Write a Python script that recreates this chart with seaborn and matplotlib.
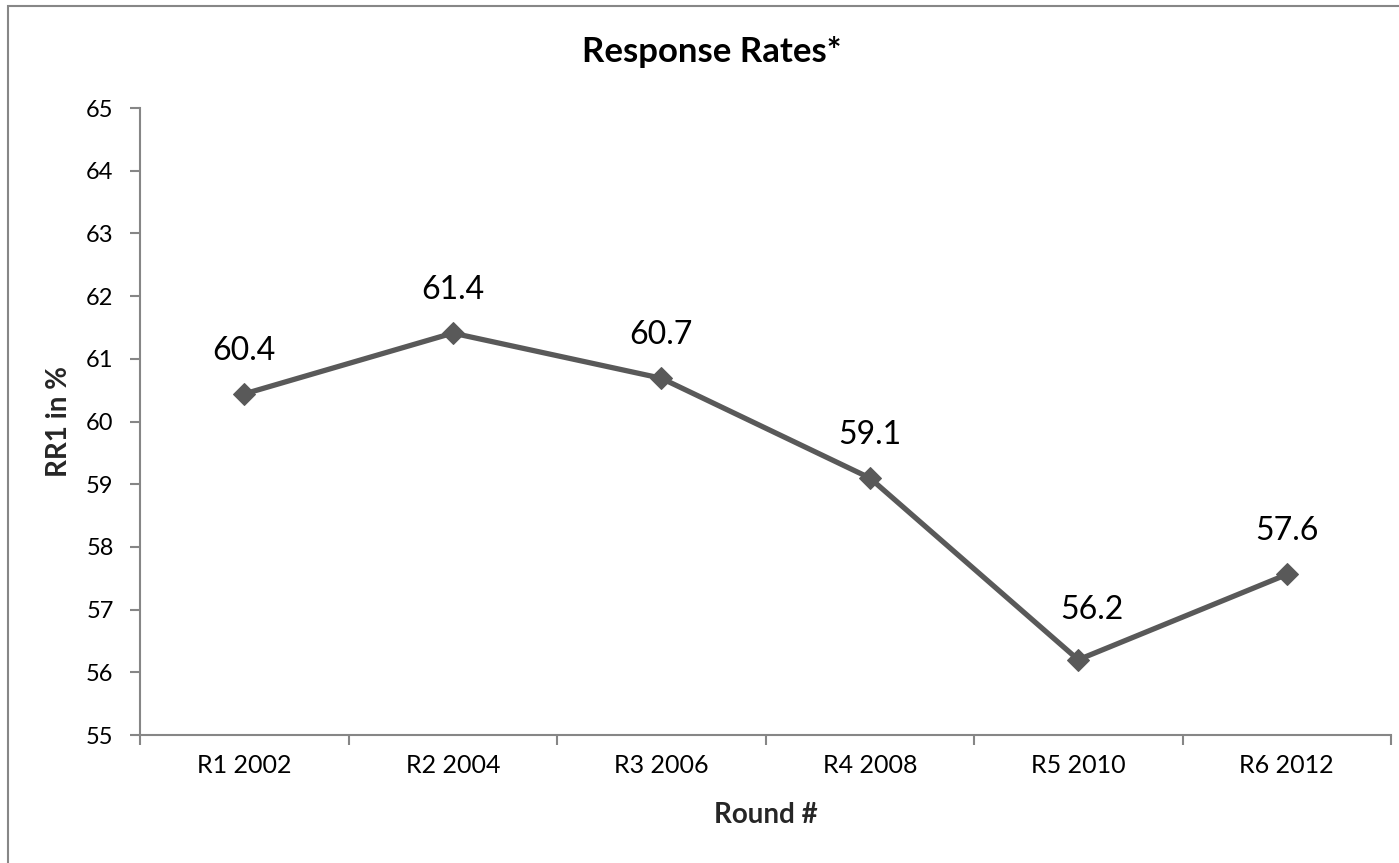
import matplotlib
matplotlib.use("Agg")
import matplotlib.pyplot as plt
from matplotlib.patches import Rectangle
from matplotlib.ticker import MultipleLocator
import seaborn as sns
import pandas as pd

# Survey rounds and first-stage response rate (RR1, %)
rounds = ["R1 2002", "R2 2004", "R3 2006", "R4 2008", "R5 2010", "R6 2012"]
rr1 = [60.44, 61.41, 60.69, 59.1, 56.2, 57.56]

title = "Response Rates*"
x_label = "Round #"
y_label = "RR1 in %"
y_ticks = list(range(55, 66))

sns.set_theme(style="white")
plt.rcParams["font.family"] = ["Lato", "DejaVu Sans"]
plt.rcParams["xtick.labelsize"] = 18
plt.rcParams["ytick.labelsize"] = 17

line_color = "#595959"
axis_color = "#868686"

df = pd.DataFrame({"round": rounds, "rr1": rr1})

fig = plt.figure(figsize=(13.99, 8.63), dpi=100)
fig.patch.set_facecolor("white")
ax = fig.add_axes([140 / 1399, 1 - 735 / 863, (1391 - 140) / 1399, (735 - 108) / 863])

sns.lineplot(data=df, x="round", y="rr1", ax=ax, color=line_color,
             linewidth=3.8, marker="D", markersize=11,
             markerfacecolor=line_color, markeredgecolor=line_color,
             sort=False)

n = len(rounds)
ax.set_xlim(-0.5, n - 0.5)
ax.set_ylim(y_ticks[0], y_ticks[-1])
ax.set_yticks(y_ticks, labels=[str(t) for t in y_ticks], fontsize=17, color="black")
ax.set_xticks(range(n), labels=rounds, fontsize=18, color="black")
ax.xaxis.set_minor_locator(MultipleLocator(1, offset=0.5))

ax.tick_params(axis="x", which="major", length=0, pad=14)
ax.tick_params(axis="x", which="minor", length=7, width=1.5, color=axis_color,
               direction="out", bottom=True)
ax.tick_params(axis="y", which="major", length=7, width=1.5, color=axis_color,
               direction="out", pad=12, left=True, labelsize=17)

for side in ["top", "right"]:
    ax.spines[side].set_visible(False)
for side in ["left", "bottom"]:
    ax.spines[side].set_color(axis_color)
    ax.spines[side].set_linewidth(1.5)

ax.set_xlabel(x_label, fontsize=20, fontweight="bold", labelpad=18)
ax.set_ylabel(y_label, fontsize=20, fontweight="bold", labelpad=10)

# Value labels above each point; the 2010 label sits a little to the right
nudges = {4: (10, 36)}
for i, v in enumerate(rr1):
    dx, dy = nudges.get(i, (0, 31))
    ax.annotate(f"{v:.1f}", xy=(i, v), xytext=(dx, dy), textcoords="offset points",
                ha="center", va="center", fontsize=23, color="black")

fig.text(712 / 1399, 1 - 52 / 863, title, ha="center", va="center",
         fontsize=25, fontweight="bold", color="black")

# Chart-area frame
fig.patches.append(Rectangle((8 / 1399, -0.1), 1.2, 1 - 6 / 863 + 0.1,
                             transform=fig.transFigure, fill=False,
                             edgecolor="#878787", linewidth=1.5))

fig.savefig("out.png", dpi=100, facecolor="white")
